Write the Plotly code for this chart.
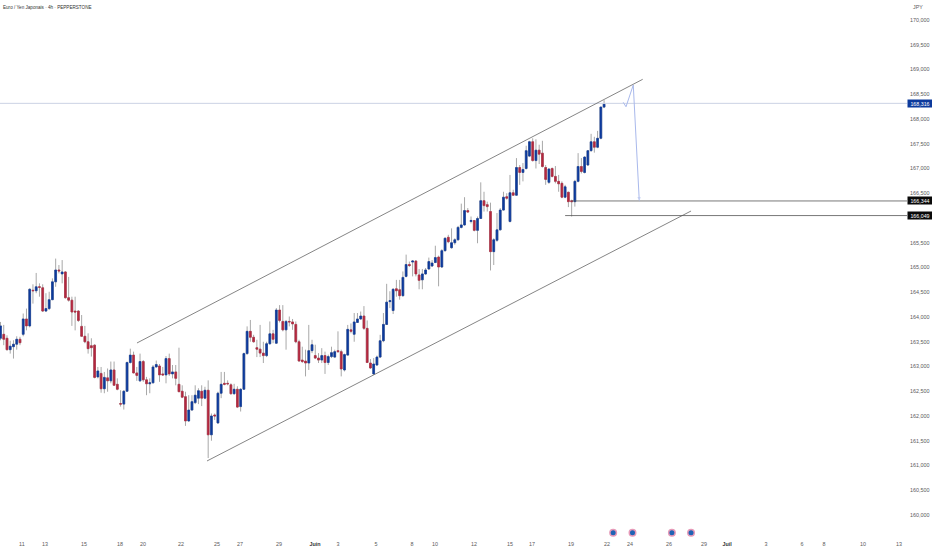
import plotly.graph_objects as go

# Candles, one row of ten at a time
open_prices = [
    163.57,163.65,163.57,163.34,163.40,163.45,163.55,163.65,163.96,163.82,
    164.54,164.53,164.61,164.59,164.12,164.17,164.35,164.71,164.95,164.87,
    164.91,164.39,164.34,164.12,164.12,163.81,163.61,163.50,163.42,163.43,
    162.79,162.86,162.55,162.77,162.71,162.93,162.64,162.25,162.24,162.50,
    163.08,163.23,162.87,162.71,163.10,162.73,162.65,162.67,162.99,163.01,
    162.85,162.83,163.16,162.85,162.89,162.64,162.50,162.39,161.90,162.12,
    162.27,162.36,162.50,162.36,162.52,161.62,162.02,161.86,162.46,162.66,
    162.66,162.63,162.45,162.54,162.19,162.54,163.26,163.71,163.59,163.38,
    163.35,163.27,163.22,163.46,163.66,163.47,164.14,163.91,163.74,163.91,
    163.90,163.85,163.50,163.13,163.11,163.07,163.32,163.22,163.17,163.13,
    163.22,163.08,163.20,163.19,163.32,163.30,162.93,163.23,163.74,163.65,
    163.89,163.96,164.02,163.77,163.07,162.85,163.03,163.19,163.52,163.85,
    164.31,164.13,164.57,164.55,164.43,164.82,165.06,165.11,165.13,164.85,
    164.75,164.87,164.97,165.03,165.10,165.21,165.01,165.34,165.61,165.40,
    165.50,165.56,165.81,165.86,166.15,165.93,165.95,165.75,165.99,166.35,
    166.27,166.13,165.32,165.55,165.76,166.16,166.43,165.93,166.51,166.46,
    167.02,166.92,167.00,167.25,167.54,167.16,167.37,167.31,167.02,166.72,
    167.00,166.84,166.74,166.70,166.42,166.52,166.35,166.33,166.74,167.04,
    166.92,167.07,167.36,167.54,167.43,167.61,168.24,
]
high_prices = [
    163.90,163.84,163.63,163.52,163.53,163.61,163.60,164.07,164.17,164.58,
    164.66,164.89,164.68,164.66,164.48,164.51,164.78,165.18,165.05,165.15,
    164.93,164.81,164.41,164.41,164.14,164.04,163.82,163.67,163.57,163.45,
    162.99,162.99,162.89,162.96,163.10,163.10,162.76,162.52,162.52,163.10,
    163.36,163.30,162.99,163.26,163.13,162.79,162.76,163.03,163.12,163.05,
    162.99,163.21,163.26,163.03,163.03,163.38,162.62,162.49,162.42,162.42,
    162.62,162.56,162.62,162.59,162.72,162.05,162.05,162.49,162.89,162.89,
    162.72,162.66,162.65,162.60,162.56,163.28,163.81,163.94,163.64,163.54,
    163.84,163.50,163.50,163.91,163.74,164.18,164.24,164.24,163.94,164.01,
    163.96,163.91,163.54,163.40,163.34,163.84,163.54,163.44,163.27,163.37,
    163.30,163.24,163.40,163.34,163.71,163.34,163.26,163.84,163.87,164.08,
    164.08,164.11,164.22,163.93,163.15,163.17,163.22,163.64,164.08,164.67,
    164.52,164.58,164.75,164.75,164.92,165.26,165.12,165.15,165.15,164.97,
    164.97,164.99,165.20,165.15,165.44,165.24,165.37,165.61,165.66,165.79,
    165.59,165.84,166.29,166.42,166.20,166.03,165.96,166.03,166.72,166.53,
    166.33,166.31,165.59,166.10,166.20,166.53,166.50,166.87,166.57,167.21,
    167.07,167.11,167.46,167.56,167.61,167.59,167.48,167.56,167.07,167.00,
    167.02,167.05,166.87,166.74,166.67,166.53,166.37,166.77,167.31,167.21,
    167.25,167.37,167.70,167.64,167.76,168.25,168.38,
]
low_prices = [
    163.53,163.43,163.32,163.26,163.16,163.34,163.43,163.61,163.73,163.79,
    164.27,164.48,164.41,164.10,164.10,164.14,164.34,164.61,164.88,164.68,
    164.37,164.31,163.82,163.73,163.90,163.60,163.47,163.26,163.20,162.76,
    162.76,162.47,162.46,162.49,162.66,162.62,162.52,162.19,162.13,162.49,
    163.06,162.86,162.71,162.69,162.69,162.42,162.46,162.66,162.98,162.69,
    162.81,162.66,162.81,162.76,162.62,162.49,162.36,161.80,161.88,162.11,
    162.24,162.24,162.20,162.34,161.15,161.50,161.92,161.84,162.36,162.62,
    162.62,162.43,162.43,162.16,162.09,162.53,163.24,163.50,163.48,163.19,
    163.19,163.07,163.19,163.44,163.47,163.46,163.89,163.71,163.34,163.81,
    163.74,163.47,163.10,163.07,162.80,162.93,163.27,163.15,163.07,163.07,
    162.85,163.03,163.17,163.17,163.28,162.80,162.90,163.22,163.67,163.50,
    163.88,163.94,163.74,163.07,162.95,162.83,163.01,163.17,163.49,163.84,
    164.18,164.06,164.41,164.35,164.41,164.80,165.01,164.82,164.82,164.56,
    164.56,164.85,164.95,165.01,165.09,164.62,164.99,165.32,165.49,165.38,
    165.46,165.54,165.79,165.84,166.10,165.89,165.73,165.49,165.98,166.13,
    166.13,164.94,165.05,165.52,165.75,166.15,166.37,165.91,166.45,166.45,
    166.67,166.74,166.98,167.23,167.14,167.00,167.09,167.02,166.67,166.69,
    166.82,166.70,166.53,166.40,166.40,166.22,166.03,166.23,166.72,166.90,
    166.90,167.05,167.34,167.32,167.41,167.59,168.22,
]
close_prices = [
    163.82,163.55,163.34,163.41,163.45,163.55,163.48,163.96,163.82,164.56,
    164.53,164.61,164.60,164.12,164.17,164.35,164.71,164.95,164.93,164.91,
    164.39,164.34,164.10,164.10,163.93,163.61,163.50,163.36,163.38,162.78,
    162.91,162.55,162.78,162.71,162.93,162.62,162.54,162.24,162.50,163.08,
    163.23,162.87,162.82,163.10,162.73,162.65,162.67,162.99,163.04,162.83,
    162.83,163.16,162.85,162.89,162.76,162.49,162.38,161.90,162.12,162.29,
    162.42,162.51,162.36,162.52,161.62,162.00,162.00,162.46,162.64,162.64,
    162.65,162.45,162.54,162.18,162.54,163.26,163.71,163.59,163.50,163.35,
    163.27,163.22,163.46,163.66,163.55,164.14,163.93,163.74,163.91,163.90,
    163.86,163.50,163.11,163.10,163.07,163.32,163.44,163.17,163.13,163.22,
    163.08,163.20,163.28,163.30,163.30,162.95,163.24,163.75,163.71,163.90,
    163.96,164.02,163.77,163.08,162.97,163.05,163.19,163.52,163.85,164.30,
    164.33,164.56,164.53,164.43,164.80,165.06,165.04,165.13,164.87,164.74,
    164.87,164.95,165.12,165.09,165.20,165.01,165.34,165.59,165.52,165.50,
    165.56,165.81,165.86,166.15,166.12,165.95,165.75,165.99,166.35,166.25,
    166.23,165.32,165.56,165.76,166.16,166.42,166.40,166.51,166.46,167.02,
    166.92,166.98,167.36,167.54,167.16,167.37,167.29,167.04,166.78,166.99,
    166.84,166.74,166.69,166.42,166.63,166.33,166.33,166.74,167.04,166.94,
    167.23,167.36,167.54,167.43,167.61,168.24,168.30,
]
bar_index = list(range(len(open_prices)))

# Time axis labels, placed at bar positions (future bars included)
tick_bars = [6.6, 13.7, 25.7, 36.8, 43.9, 55.6, 66.7, 73.8, 85.8, 96.9, 104,
             115.7, 126.8, 133.9, 145.9, 157, 163.8, 175.8, 186.9, 194, 206,
             216.8, 223.9, 235.9, 247, 253.8, 265.8, 276.9]
tick_labels = ["11", "13", "15", "18", "20", "22", "25", "27", "29",
               "<b style='color:#333'>Juin</b>", "3", "5", "8", "10", "12",
               "15", "17", "19", "22", "24", "26", "29",
               "<b style='color:#333'>Juil</b>", "3", "6", "8", "10", "13"]

# Price axis labels, 166,000 sits behind the level box in the original
price_ticks = [160.0, 160.5, 161.0, 161.5, 162.0, 162.5, 163.0, 163.5, 164.0, 164.5,
               165.0, 165.5, 166.5, 167.0, 167.5, 168.0, 168.5, 169.0, 169.5, 170.0]
price_labels = ["160,000", "160,500", "161,000", "161,500", "162,000", "162,500", "163,000",
                "163,500", "164,000", "164,500", "165,000", "165,500", "166,500", "167,000",
                "167,500", "168,000", "168,500", "169,000", "169,500", "170,000"]

# Drawings on the chart: bar position and price of each anchor
channel_top_x = [42.06, 197.9]
channel_top_y = [163.475, 168.802]
channel_bottom_x = [63.64, 212.8]
channel_bottom_y = [161.091, 166.141]
path_x = [191.9, 192.76, 195.0, 196.86]
path_y = [168.337, 168.248, 168.687, 166.329]
level_high_x = [176, 279.4]
level_low_x = [174, 279.4]
level_high = 166.344
level_low = 166.049
last_price = 168.316

# Event icons just above the time axis
event_x = [188.8, 194.76, 206.9, 212.8]
event_y = [159.64, 159.64, 159.64, 159.64]

BLUE = "#0d3a9c"
RED = "#b3283f"
WICK = "#a8a8a8"
TEXT = "#5a5a5a"
FONT = "Liberation Sans"

fig = go.Figure()

# Plotly uses one colour per candle for wick and body, so draw wicks first in grey
fig.add_trace(go.Candlestick(
    x=bar_index, open=open_prices, high=high_prices, low=low_prices, close=close_prices,
    whiskerwidth=0,
    increasing=dict(line=dict(color=WICK, width=1), fillcolor=WICK),
    decreasing=dict(line=dict(color=WICK, width=1), fillcolor=WICK),
    hoverinfo="skip",
))

body_high = [max(o, c) for o, c in zip(open_prices, close_prices)]
body_low = [min(o, c) for o, c in zip(open_prices, close_prices)]
fig.add_trace(go.Candlestick(
    x=bar_index, open=open_prices, high=body_high, low=body_low, close=close_prices,
    whiskerwidth=0,
    increasing=dict(line=dict(color=BLUE, width=0.6), fillcolor=BLUE),
    decreasing=dict(line=dict(color=RED, width=0.6), fillcolor=RED),
))


def add_line(xs, ys, color, width):
    fig.add_trace(go.Scatter(x=xs, y=ys, mode="lines", line=dict(color=color, width=width),
                             hoverinfo="skip"))


# Last price line, channel and the two levels
add_line([-1, 279.4], [last_price, last_price], "#ccd3e4", 1)
add_line(channel_top_x, channel_top_y, "#666666", 0.8)
add_line(channel_bottom_x, channel_bottom_y, "#666666", 0.8)
add_line(level_high_x, [level_high, level_high], "#555555", 0.8)
add_line(level_low_x, [level_low, level_low], "#555555", 0.8)

# Projected path with a small arrow on the last point
fig.add_trace(go.Scatter(
    x=path_x, y=path_y, mode="lines+markers",
    line=dict(color="#a9b9ec", width=1),
    marker=dict(symbol="arrow", size=[0, 0, 0, 5], angleref="previous",
                color="#a9b9ec", line=dict(width=0)),
    hoverinfo="skip",
))

fig.add_trace(go.Scatter(
    x=event_x, y=event_y, mode="markers",
    marker=dict(size=6.5, color="#1f63b5", line=dict(color="#e69ab8", width=1.5)),
    hoverinfo="skip",
))


def add_price_box(price, text, color):
    fig.add_annotation(x=1, xref="paper", y=price, yref="y", text=text, showarrow=False,
                       xanchor="left", yanchor="middle", width=24, height=7,
                       bgcolor=color, borderpad=0, font=dict(color="white", size=5.3, family=FONT))


add_price_box(last_price, "168,316", "#0d3a9c")
add_price_box(level_high, "166,344", "#0a0a0a")
add_price_box(level_low, "166,049", "#0a0a0a")

fig.add_annotation(x=0, xref="paper", xshift=1, y=1, yref="paper", yshift=-7, text="Euro / Yen Japonais · 4h · PEPPERSTONE",
                   showarrow=False, xanchor="left", yanchor="middle",
                   font=dict(color="#333333", size=4.6, family=FONT))
fig.add_annotation(x=1, xref="paper", xshift=4, y=1, yref="paper", yshift=-7, text="JPY",
                   showarrow=False, xanchor="left", yanchor="middle",
                   font=dict(color=TEXT, size=5.3, family=FONT))

fig.update_layout(
    width=932, height=550,
    margin=dict(l=0, r=25, t=0, b=12),
    paper_bgcolor="white", plot_bgcolor="white",
    showlegend=False,
    boxgap=0.22,
    xaxis=dict(range=[-0.154, 279.35], rangeslider=dict(visible=False), showgrid=False,
               zeroline=False, showline=False, ticks="", tickmode="array",
               tickvals=tick_bars, ticktext=tick_labels, ticklabelstandoff=2,
               tickfont=dict(size=5.4, color=TEXT, family=FONT)),
    yaxis=dict(range=[159.535, 170.404], side="right", showgrid=False, zeroline=False,
               showline=False, ticks="", tickmode="array", tickvals=price_ticks,
               ticktext=price_labels, ticklabelstandoff=2,
               tickfont=dict(size=5.4, color=TEXT, family=FONT)),
)

fig.write_html("out.html", config={"displayModeBar": False},
               post_script="document.body.style.margin='0';")
